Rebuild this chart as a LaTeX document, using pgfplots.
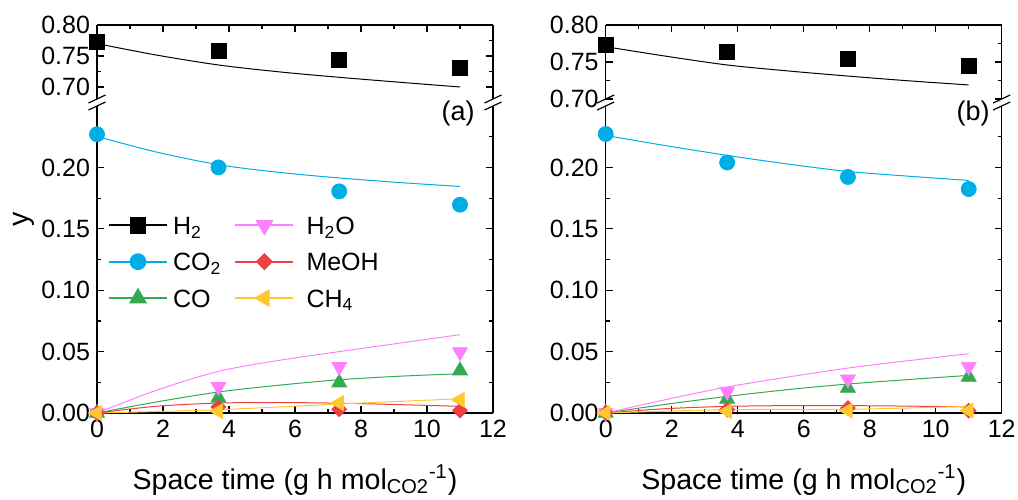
\documentclass[border=0pt]{standalone}
\usepackage{fontspec}
\setmainfont{Liberation Sans}
\usepackage{pgfplots}
\pgfplotsset{compat=1.18}
\definecolor{cH2}{RGB}{0,0,0}
\definecolor{cCO2}{RGB}{0,174,230}
\definecolor{cCO}{RGB}{50,170,80}
\definecolor{cH2O}{RGB}{255,128,255}
\definecolor{cMeOH}{RGB}{235,65,65}
\definecolor{cCH4}{RGB}{255,200,50}
\newcommand{\fs}{\fontsize{12.5}{15}\selectfont}
\newcommand{\fl}{\fontsize{14.3}{17}\selectfont}
\pgfplotsset{
 brk/.style={
  scale only axis, width=198pt, xmin=0, xmax=12, clip=false,
  xtick={0,2,4,6,8,10,12}, minor xtick={1,3,5,7,9,11},
  tick align=inside, major tick length=3.5pt, minor tick length=2pt,
  every tick/.style={black, line width=0.6pt},
  axis line style={line width=0.6pt, black},
  tick label style={font=\fs},
  label style={font=\fl},
  /pgf/number format/assume math mode=true,
  yticklabel style={/pgf/number format/fixed, /pgf/number format/fixed zerofill, /pgf/number format/precision=2},
  ytick pos=both, yticklabel pos=left,
 },
 upper/.style={brk, height=37pt, axis x line*=top, xticklabels={}, ytick={0.70,0.75,0.80}, minor ytick={0.725,0.775}, ymax=0.80, tick align=inside},
 lower/.style={brk, height=153.5pt, axis x line*=bottom, ymin=0, ymax=0.25, ytick={0,0.05,0.10,0.15,0.20}, minor ytick={0.025,0.075,0.125,0.175,0.225}, tick align=inside},
 sH2/.style={color=cH2, mark=square*, mark size=3.75pt},
 sCO2/.style={color=cCO2, mark=*, mark size=3.75pt},
 sCO/.style={color=cCO, mark=triangle*, mark size=4.3pt},
 sH2O/.style={color=cH2O, mark=triangle*, mark size=4.3pt, mark options={rotate=180}},
 sMeOH/.style={color=cMeOH, mark=square*, mark size=2.6pt, mark options={rotate=45}},
 sCH4/.style={color=cCH4, mark=triangle*, mark size=4.3pt, mark options={rotate=90}},
 mk/.style={only marks},
 ln/.style={no marks, smooth, line width=0.5pt},
}
\begin{document}
\begin{tikzpicture}
\useasboundingbox (0,0) rectangle (509pt,249.5pt);
% ---------- panel (a) ----------
\begin{axis}[upper, ymin=0.6806, at={(48.5pt,200pt)}, anchor=south west]
\addplot[sH2, mk] coordinates {(0,0.773)(3.68,0.758)(7.34,0.743)(11,0.730)};
\addplot[sH2, ln] coordinates {(0,0.770)(1.8,0.7515)(3.68,0.7355)(5.5,0.7245)(7.34,0.7156)(9.2,0.7075)(11,0.700)};
\end{axis}
\begin{axis}[lower, at={(48.5pt,43pt)}, anchor=south west,
  xlabel={Space time (g h mol\textsubscript{CO2}\textsuperscript{-1})},
  xlabel style={at={(axis description cs:0.5,0)}, anchor=base, yshift=-38pt},
  ylabel={y}, ylabel style={at={(axis description cs:-0.185,0.632)}, anchor=center},
  legend style={draw=none, fill=none, at={(axis description cs:0.027,0.672)}, anchor=north west, legend columns=2, font=\fs, inner sep=0pt,
    nodes={inner sep=2.6pt, text height=11pt, text depth=2pt, anchor=west},
    /tikz/every even column/.append style={column sep=4pt}},
  legend cell align=left,
  legend image code/.code={\draw[mark repeat=2,mark phase=2] plot coordinates {(0pt,0pt)(14.5pt,0pt)(29pt,0pt)};}]
\addlegendimage{sH2, line width=0.9pt}
\addlegendentry{H\textsubscript{2}}
\addlegendimage{sH2O, line width=0.9pt}
\addlegendentry{\hspace{3.5pt}H\textsubscript{2}O}
\addlegendimage{sCO2, line width=0.9pt}
\addlegendentry{CO\textsubscript{2}}
\addlegendimage{sMeOH, line width=0.9pt}
\addlegendentry{\hspace{3.5pt}MeOH}
\addlegendimage{sCO, line width=0.9pt}
\addlegendentry{CO}
\addlegendimage{sCH4, line width=0.9pt}
\addlegendentry{\hspace{3.5pt}CH\textsubscript{4}}
\addplot[sCO2, ln, forget plot] coordinates {(0,0.2252)(1.8,0.2125)(3.68,0.2022)(5.5,0.196)(7.34,0.1914)(9.2,0.1876)(11,0.1845)};
\addplot[sCO, ln, forget plot] coordinates {(0,0)(1.8,0.009)(3.68,0.0171)(5.5,0.0226)(7.34,0.0271)(9.2,0.030)(11,0.032)};
\addplot[sH2O, ln, forget plot] coordinates {(0,0)(1.8,0.0185)(3.68,0.0339)(5.5,0.0428)(7.34,0.050)(9.2,0.057)(11,0.0638)};
\addplot[sMeOH, ln, forget plot] coordinates {(0,0)(1.8,0.0055)(3.68,0.0081)(5.5,0.0085)(7.34,0.008)(9.2,0.0068)(11,0.0054)};
\addplot[sCH4, ln, forget plot] coordinates {(0,0)(3.68,0.0027)(7.34,0.0073)(11,0.0116)};
\addplot[sCO2, mk, forget plot] coordinates {(0,0.227)(3.68,0.200)(7.34,0.1805)(11,0.1696)};
\addplot[sCO, mk, forget plot] coordinates {(0,0)(3.68,0.0124)(7.34,0.0247)(11,0.0345)};
\addplot[sH2O, mk, forget plot] coordinates {(0,0)(3.68,0.0214)(7.34,0.0377)(11,0.0497)};
\addplot[sMeOH, mk, forget plot] coordinates {(0,0)(3.68,0.005)(7.34,0.003)(11,0.0021)};
\addplot[sCH4, mk, forget plot] coordinates {(0,0)(3.68,0.0015)(7.34,0.0081)(11,0.0108)};
\end{axis}
% ---------- panel (b) ----------
\begin{axis}[upper, ymin=0.70, at={(302.85pt,200pt)}, anchor=south west]
\addplot[sH2, mk] coordinates {(0,0.773)(3.68,0.763)(7.34,0.7536)(11,0.7446)};
\addplot[sH2, ln] coordinates {(0,0.7707)(1.8,0.758)(3.68,0.746)(5.5,0.738)(7.34,0.731)(9.2,0.7245)(11,0.719)};
\end{axis}
\begin{axis}[lower, at={(302.85pt,43pt)}, anchor=south west,
  xlabel={Space time (g h mol\textsubscript{CO2}\textsuperscript{-1})},
  xlabel style={at={(axis description cs:0.5,0)}, anchor=base, yshift=-38pt}]
\addplot[sCO2, ln] coordinates {(0,0.226)(1.8,0.2178)(3.68,0.2098)(5.5,0.2028)(7.34,0.1967)(9.2,0.1928)(11,0.1894)};
\addplot[sCO, ln] coordinates {(0,0)(1.8,0.007)(3.68,0.0135)(5.5,0.019)(7.34,0.0236)(9.2,0.0273)(11,0.0306)};
\addplot[sH2O, ln] coordinates {(0,0)(1.8,0.0108)(3.68,0.0212)(5.5,0.0292)(7.34,0.0366)(9.2,0.0427)(11,0.0483)};
\addplot[sMeOH, ln] coordinates {(0,0)(1.8,0.0035)(3.68,0.0054)(5.5,0.006)(7.34,0.006)(9.2,0.0056)(11,0.005)};
\addplot[sCH4, ln] coordinates {(0,0)(3.68,0.0027)(7.34,0.003)(11,0.0054)};
\addplot[sCO2, mk] coordinates {(0,0.2272)(3.68,0.204)(7.34,0.1922)(11,0.1824)};
\addplot[sCO, mk] coordinates {(0,0)(3.68,0.0114)(7.34,0.0204)(11,0.0293)};
\addplot[sH2O, mk] coordinates {(0,0)(3.68,0.0175)(7.34,0.0275)(11,0.0378)};
\addplot[sMeOH, mk] coordinates {(0,0)(3.68,0.0027)(7.34,0.004)(11,0.0019)};
\addplot[sCH4, mk] coordinates {(0,0)(3.68,0.0015)(7.34,0.002)(11,0.002)};
\end{axis}
% break marks and panel labels
\foreach \xx in {48.5pt,246.5pt,302.85pt,500.85pt}{
  \draw[line width=0.6pt] ([xshift=-4.25pt,yshift=-2pt]\xx,200pt) -- ([xshift=4.25pt,yshift=2pt]\xx,200pt);
  \draw[line width=0.6pt] ([xshift=-4.25pt,yshift=-2pt]\xx,196.5pt) -- ([xshift=4.25pt,yshift=2pt]\xx,196.5pt);
}
\node[anchor=east, font=\fontsize{13.5}{16}\selectfont, inner sep=0pt] at (237.5pt,192.5pt) {(a)};
\node[anchor=east, font=\fontsize{13.5}{16}\selectfont, inner sep=0pt] at (495pt,192.5pt) {(b)};
\end{tikzpicture}
\end{document}
